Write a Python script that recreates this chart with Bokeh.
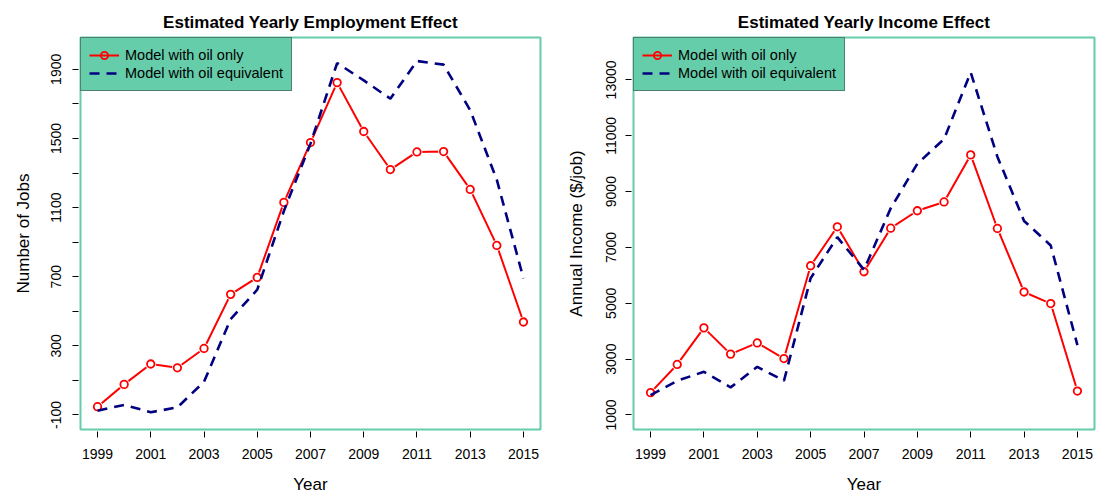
from bokeh.plotting import figure
from bokeh.models import FixedTicker, Legend, LegendItem, Range1d
from bokeh.layouts import row
from bokeh.embed import file_html
from bokeh.resources import INLINE

# ---- data ----
years = list(range(1999, 2016))
emp_oil_only = [-52, 77, 195, 173, 285, 598, 696, 1130, 1476, 1823, 1540, 1320, 1422, 1424, 1205, 881, 438]
emp_oil_equiv = [-75, -42, -84, -56, 92, 455, 625, 1080, 1470, 1936, 1836, 1730, 1948, 1927, 1663, 1260, 690]
inc_oil_only = [1800, 2810, 4120, 3180, 3580, 3020, 6345, 7740, 6130, 7690, 8315, 8630, 10315, 7680, 5405, 4990, 1857]
inc_oil_equiv = [1714, 2225, 2548, 1988, 2726, 2226, 5900, 7368, 6200, 8400, 10000, 10880, 13270, 10250, 7950, 7070, 3500]

x_ticks = [1999, 2001, 2003, 2005, 2007, 2009, 2011, 2013, 2015]
emp_ticks = [-100, 100, 300, 500, 700, 900, 1100, 1300, 1500, 1700, 1900]
emp_tick_labels = ["-100", "", "300", "", "700", "", "1100", "", "1500", "", "1900"]
inc_ticks = [1000, 3000, 5000, 7000, 9000, 11000, 13000]
inc_tick_labels = ["1000", "3000", "5000", "7000", "9000", "11000", "13000"]

series_labels = ["Model with oil only", "Model with oil equivalent"]
titles = ["Estimated Yearly Employment Effect", "Estimated Yearly Income Effect"]
ylabels = ["Number of Jobs", "Annual Income ($/job)"]

FONT = "Liberation Sans"
GREEN = "#66CDAA"
RED = "#FF0000"
NAVY = "#000080"


def make_panel(title, ylabel, y_only, y_equiv, y_range, yticks, ytick_labels,
               width, mb_left, mb_right, y_label_standoff):
    p = figure(width=width, height=497, output_backend="svg", toolbar_location=None,
               x_range=Range1d(1998.36, 2015.64), y_range=Range1d(*y_range),
               min_border_left=mb_left, min_border_right=mb_right,
               min_border_top=37, min_border_bottom=68,
               background_fill_color="white", border_fill_color="white")
    p.grid.visible = False
    p.outline_line_color = GREEN
    p.outline_line_width = 2

    p.title.text = title
    p.title.text_font = FONT
    p.title.text_font_size = "17px"
    p.title.text_font_style = "bold"
    p.title.align = "center"
    p.title.text_color = "black"
    p.title.standoff = 12

    # x axis
    xa = p.xaxis[0]
    xa.ticker = FixedTicker(ticks=x_ticks, minor_ticks=[])
    xa.axis_label = "Year"
    # y axis
    ya = p.yaxis[0]
    ya.ticker = FixedTicker(ticks=yticks, minor_ticks=[])
    ya.major_label_overrides = {t: l for t, l in zip(yticks, ytick_labels)}
    ya.axis_label = ylabel
    ya.major_label_orientation = "vertical"

    for ax in (xa, ya):
        ax.axis_line_color = None
        ax.major_tick_line_color = "black"
        ax.major_tick_line_width = 1
        ax.major_tick_in = -2
        ax.major_tick_out = 8
        ax.minor_tick_line_color = None
        ax.major_label_text_font = FONT
        ax.major_label_text_font_size = "14px"
        ax.major_label_text_color = "black"
        ax.axis_label_text_font = FONT
        ax.axis_label_text_font_size = "17px"
        ax.axis_label_text_font_style = "normal"
        ax.axis_label_text_color = "black"
    xa.major_label_standoff = 11
    xa.axis_label_standoff = 13
    ya.major_label_standoff = y_label_standoff
    ya.axis_label_standoff = 15 + (12 - y_label_standoff)

    r_line = p.line(years, y_only, line_color=RED, line_width=2)
    p.scatter(years, y_only, size=11, fill_color="white", line_color=None)
    r_pts = p.scatter(years, y_only, size=7.5, fill_color=None, line_color=RED, line_width=1.8)
    b_line = p.line(years, y_equiv, line_color=NAVY, line_width=2.6, line_dash="10 7")

    legend = Legend(items=[LegendItem(label=series_labels[0], renderers=[r_line, r_pts]),
                           LegendItem(label=series_labels[1], renderers=[b_line])],
                    location="top_left")
    legend.margin = 0
    legend.padding = 8
    legend.spacing = 0
    legend.glyph_width = 30
    legend.glyph_height = 18
    legend.label_height = 18
    legend.label_standoff = 6
    legend.label_text_font = FONT
    legend.label_text_font_size = "14.5px"
    legend.label_text_color = "black"
    legend.background_fill_color = GREEN
    legend.background_fill_alpha = 1
    legend.border_line_color = "#333333"
    legend.border_line_width = 1
    p.add_layout(legend)
    return p


p1 = make_panel(titles[0], ylabels[0], emp_oil_only, emp_oil_equiv, (-184, 2084),
                emp_ticks, emp_tick_labels, width=560, mb_left=80, mb_right=20,
                y_label_standoff=11)
p2 = make_panel(titles[1], ylabels[1], inc_oil_only, inc_oil_equiv, (480, 14520),
                inc_ticks, inc_tick_labels, width=536, mb_left=73, mb_right=2,
                y_label_standoff=9)

layout = row(p1, p2)
open("out.html", "w").write(file_html(layout, INLINE))
